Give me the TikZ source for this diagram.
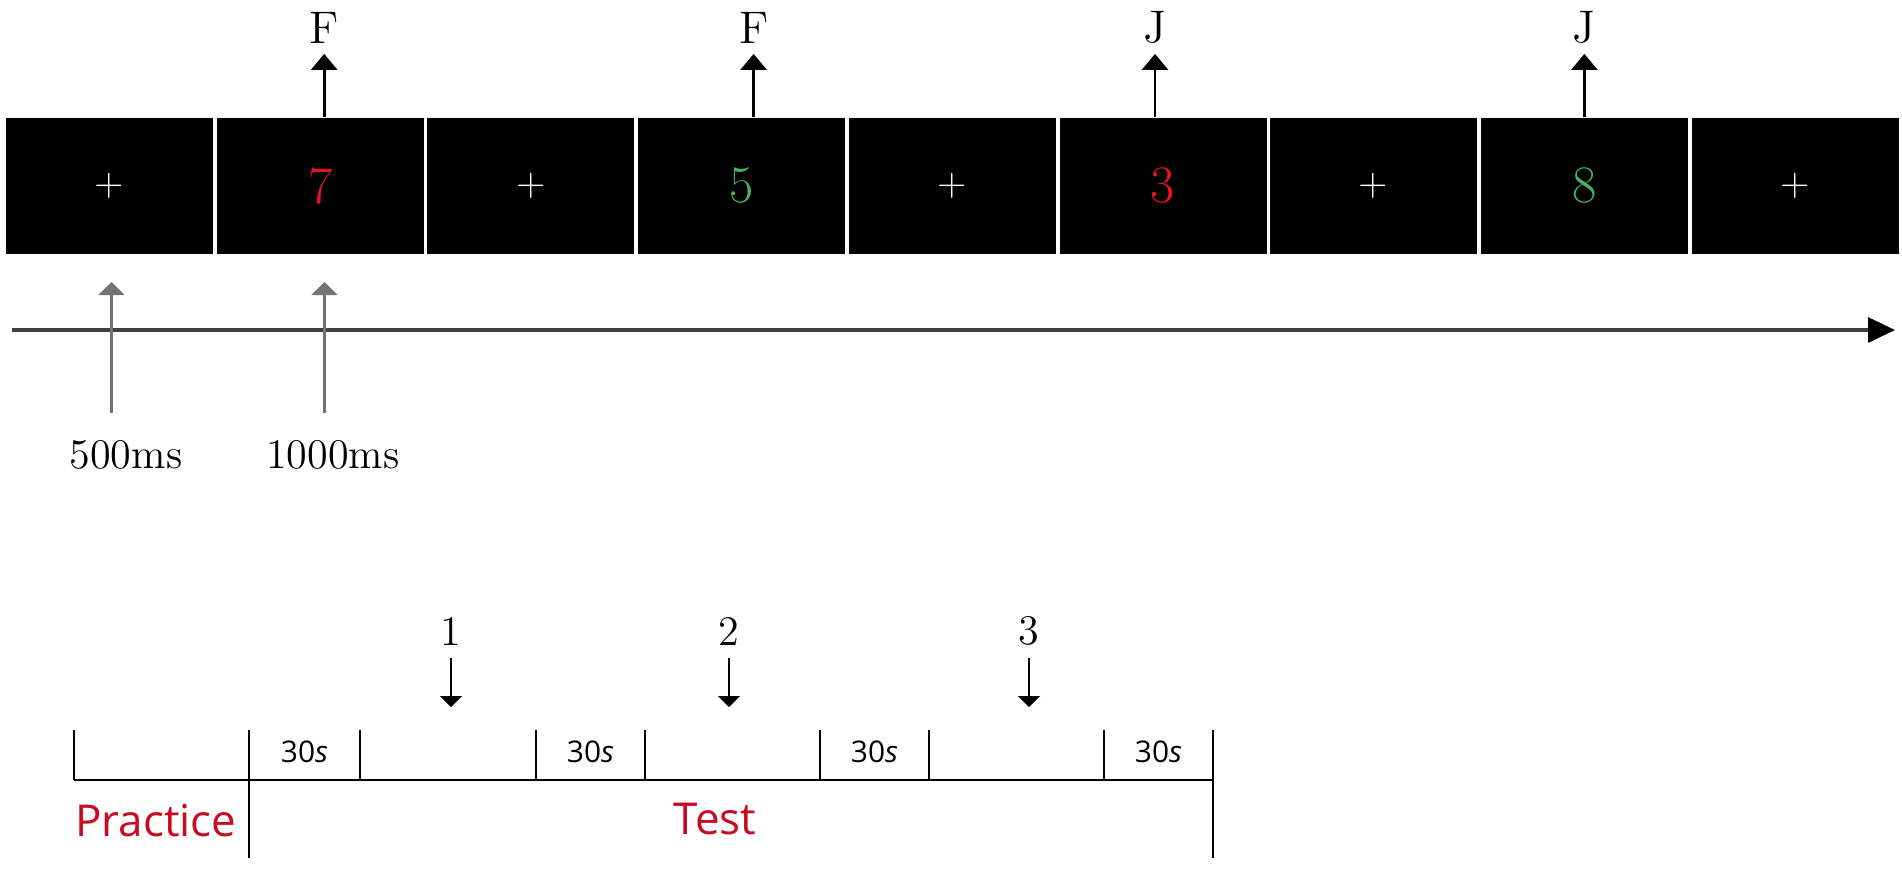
\documentclass[tikz,border=0pt]{standalone}
\usepackage{fontspec}
\usepackage{tikz}
\usetikzlibrary{arrows.meta,calc,positioning}
\newfontfamily\labelsans{Open Sans}
\definecolor{stimred}{RGB}{228,20,35}
\definecolor{stimgreen}{RGB}{70,180,100}
\definecolor{phasered}{RGB}{200,10,35}
\definecolor{markgray}{RGB}{115,115,115}

\begin{document}
\begin{tikzpicture}[
    screen/.style={fill=black, minimum width=2.07cm, minimum height=1.36cm, inner sep=0pt},
    key/.style={inner sep=0pt, font=\fontsize{13}{13}\selectfont},
    resp/.style={-{Triangle[width=2.6mm,length=1.6mm]}, line width=0.8pt},
    onset/.style={-{Triangle[width=2.6mm,length=1.3mm]}, line width=0.6pt, draw=markgray, fill=markgray},
    cue/.style={-{Triangle[width=2.2mm,length=1.1mm]}, line width=0.6pt},
    phase/.style={line width=0.7pt},
    seglabel/.style={inner sep=0pt, font=\labelsans\fontsize{8.5}{9}\selectfont},
    phaselabel/.style={inner sep=0pt, text=phasered, font=\labelsans\fontsize{12.5}{13}\selectfont}
  ]
  \useasboundingbox (0,0) rectangle (19.02,-8.68);

  % stimulus screens
  \foreach \i/\c/\col/\sz in {0/+/white/11, 1/7/stimred/15, 2/+/white/11, 3/5/stimgreen/15,
      4/+/white/11, 5/3/stimred/15, 6/+/white/11, 7/8/stimgreen/15, 8/+/white/11} {
    \node[screen, text=\col, font=\fontsize{\sz}{\sz}\selectfont] (S\i) at (\i*2.107+1.095, -1.856) {\c};
  }
  % key responses
  \foreach \i/\k/\dx in {1/F/0.04, 3/F/0.12, 5/J/-0.08, 7/J/0} {
    \node[key, anchor=south] (K\i) at ($(S\i.north)+(\dx,0.73)$) {\k};
    \draw[resp, shorten >=1mm] (K\i |- S\i.north) -- (K\i.south);
  }

  % time axis
  \coordinate (tl0) at (0.12,-3.30);
  \coordinate (tl1) at (18.95,-3.30);
  \draw[-{Triangle[width=2.5mm,length=2.7mm,color=black]}, line width=0.9pt, draw=black!75] (tl0) -- (tl1);

  \node[key, font=\fontsize{12}{12}\selectfont] (O1) at (1.26,-4.55) {500ms};
  \node[key, font=\fontsize{12}{12}\selectfont] (O2) at (3.33,-4.55) {1000ms};
  \coordinate (o1) at (1.115,-2.82);
  \coordinate (o2) at (3.245,-2.82);
  \draw[onset, shorten <=2.7mm] (O1.north -| o1) -- (o1);
  \draw[onset, shorten <=2.7mm] (O2.north -| o2) -- (o2);

  % block design
  \foreach \j/\x in {0/0.74, 1/2.49, 2/3.60, 3/5.36, 4/6.45, 5/8.20, 6/9.29, 7/11.04, 8/12.13} {
    \coordinate (b\j) at (\x,-7.80);
    \draw[phase] (b\j) -- ++(0,0.50);
  }
  \draw[phase] (b0) -- (b8);
  \draw[phase] (b1) -- ++(0,-0.78);
  \draw[phase] (b8) -- ++(0,-0.78);

  \foreach \a/\b in {1/2, 3/4, 5/6, 7/8} {
    \node[seglabel] (L\a) at ($(b\a)!0.5!(b\b)+(0,0.28)$) {30\textit{s}};
  }
  \node[phaselabel] (prac) at (1.56,-8.21) {Practice};
  \node[phaselabel] (test) at (7.15,-8.19) {Test};

  \foreach \n/\x in {1/4.51, 2/7.29, 3/10.29} {
    \node[key, font=\fontsize{12}{12}\selectfont] (N\n) at (\x,-6.31) {\n};
    \coordinate (t\n) at (\x,-7.07);
    \draw[cue, shorten <=1.2mm] (N\n.south) -- (t\n);
  }
\end{tikzpicture}
\end{document}
